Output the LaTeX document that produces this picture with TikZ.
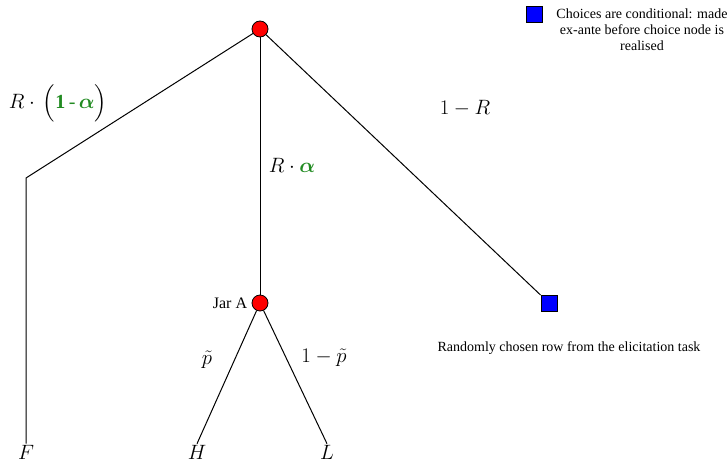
\documentclass[tikz,border=0pt]{standalone}
\usepackage{amsmath}
\usepackage{bm}
\usepackage{xcolor}
\usepackage{fontspec}
\setmainfont{Liberation Serif}
\usetikzlibrary{positioning}
\definecolor{probgreen}{RGB}{34,139,34}
\tikzset{
  chance/.style={circle, draw, fill=red, minimum size=16pt, inner sep=0pt, line width=0.8pt},
  choice/.style={rectangle, draw, fill=blue, minimum size=16pt, inner sep=0pt, line width=0.8pt},
  branch/.style={line width=1pt},
  leaf/.style={font=\fontsize{20}{22}\selectfont, inner sep=1pt},
  problabel/.style={font=\fontsize{20}{24}\selectfont},
  note/.style={font=\fontsize{14}{16}\selectfont, align=center}
}
\begin{document}
\begin{tikzpicture}[x=1pt, y=-1pt]
      \useasboundingbox (0,0) rectangle (727,463);
      % Root and chance nodes
      \node[chance] (root) at (260,29) {};
      \node[chance] (jarA) at (260,303) {};
      \node[left=1pt of jarA, font=\fontsize{16}{18}\selectfont] (jarlabel) {Jar A};
      \coordinate (bend) at (26,178);
      \node[choice] (row) at (549,303) {};

      % Leaves
      \node[leaf] (F) at (26,452) {$F$};
      \node[leaf] (H) at (197,452) {$H$};
      \node[leaf] (L) at (327,452) {$L$};

      % Branches
      \draw[branch] (root) -- (bend) -- (F.north);
      \draw[branch] (root) -- (jarA);
      \draw[branch] (root) -- (row);
      \draw[branch] (jarA) -- (H.north);
      \draw[branch] (jarA) -- (L.north);

      % Probabilities
      \node[problabel] (probF) at (58,103) {$R\cdot\,\Big(\textcolor{probgreen}{\mathbf{1\,\text{-}\,\bm{\alpha}}}\Big)$};
      \node[problabel] (probJar) at (292,165) {$R\cdot\textcolor{probgreen}{\bm{\alpha}}$};
      \node[problabel] (probRow) at (465,108) {$1-R$};
      \node[problabel] (probH) at (207,360) {$\tilde{p}$};
      \node[problabel] (probL) at (324,358) {$1-\tilde{p}$};

      % Legend
      \node[choice] (legendbox) at (534,14) {};
      \node[note, anchor=north] (legendtext) at (642,5) {Choices are conditional: made\\ex-ante before choice node is\\realised};
      \node[note] (rowtext) at (569,348) {Randomly chosen row from the elicitation task};
    \end{tikzpicture}
\end{document}
